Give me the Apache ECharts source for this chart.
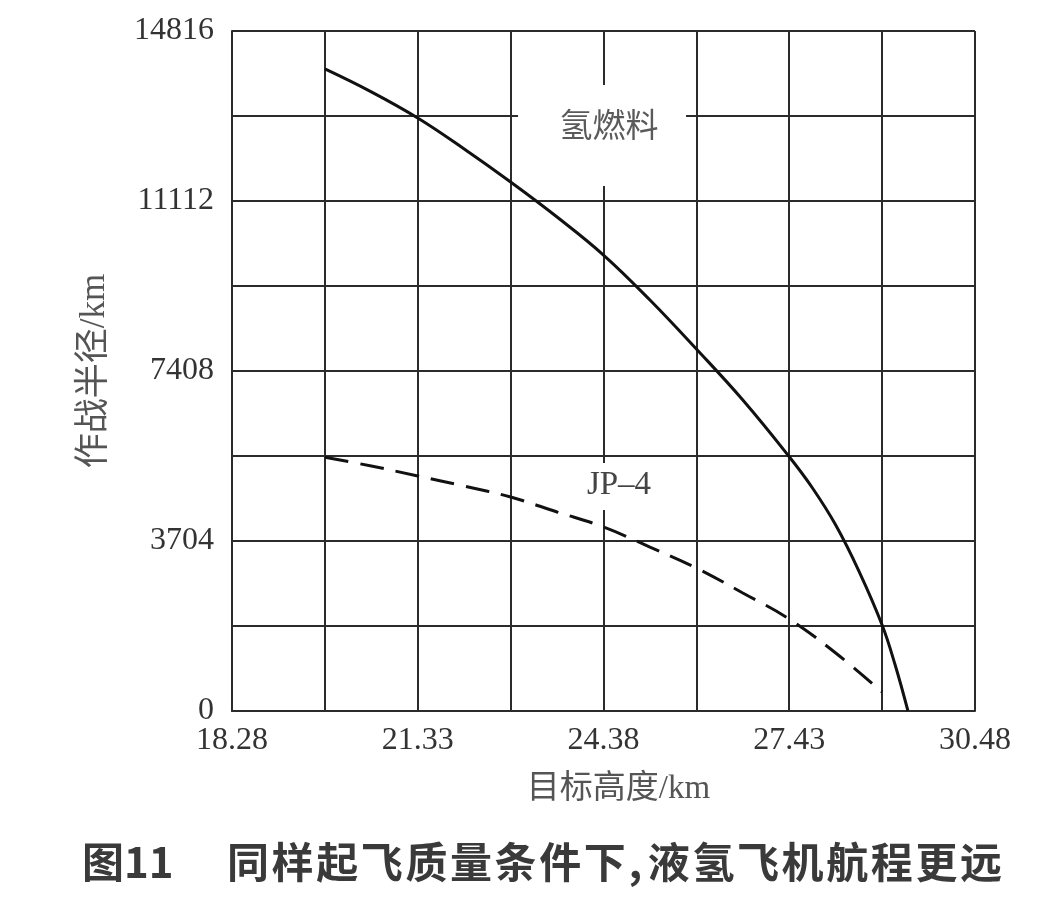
<!DOCTYPE html>
<html>
<head>
<meta charset="utf-8">
<script src="https://cdn.jsdelivr.net/npm/echarts@6/dist/echarts.min.js"></script>
<style>
html,body{margin:0;padding:0;background:#fff;}
#chart{width:1062px;height:900px;}
</style>
</head>
<body>
<div id="chart"></div>
<script>
// X: target altitude (km); Y: combat radius (km)
const xTickLabels = ['18.28', '21.33', '24.38', '27.43', '30.48'];
const yTickLabels = ['0', '3704', '7408', '11112', '14816'];

const h2Altitude = [19.812, 20.574, 21.336, 22.098, 22.86, 23.622, 24.384, 25.146, 25.908, 26.67, 27.432, 27.813, 28.194, 28.575, 28.956, 29.17, 29.38];
const h2Radius   = [13990, 13490, 12920, 12245, 11526, 10763, 9935, 8955, 7887, 6776, 5540, 4859, 4053, 3050, 1874, 1002, 0];

const jpAltitude = [19.812, 20.574, 21.336, 22.098, 22.86, 23.622, 24.384, 25.146, 25.908, 26.67, 27.432, 28.194, 28.956];
const jpRadius   = [5530, 5338, 5120, 4900, 4663, 4336, 4009, 3573, 3116, 2571, 2004, 1264, 414];

// curve labels (placed at the centre of their white label boxes)
const labelNames = ['氢燃料', 'JP\u20134'];
const labelAltitude = [24.36, 24.638];
const labelRadius = [12539, 4891];

const captionLead = '图11';
const captionText = '同样起飞质量条件下,液氢飞机航程更远';

const X_MIN = 18.288, X_MAX = 30.48, X_STEP = 1.524;
const Y_MIN = 0, Y_MAX = 14816, Y_STEP = 1852;

const zip = (a, b) => a.map((v, i) => [v, b[i]]);
const gridLine = { color: '#2b2b2b', width: 2 };
const serifCJK = '"Liberation Serif", "Noto Sans CJK SC", serif';
const captionFont = 'bold 42px "Noto Sans CJK SC"';

// caption characters laid out with a little letter spacing
const captionGraphics = [
  { type: 'text', left: 82, top: 841, style: { text: captionLead, font: captionFont, fill: '#3a3a3a' } }
];
(function () {
  let cx = 227;
  for (const ch of captionText) {
    captionGraphics.push({ type: 'text', left: cx, top: 841, style: { text: ch, font: captionFont, fill: '#3a3a3a' } });
    cx += (ch === ',') ? 19.4 : 44.6;
  }
})();

const chart = echarts.init(document.getElementById('chart'), null, { renderer: 'canvas' });
chart.setOption({
  backgroundColor: '#ffffff',
  animation: false,
  grid: { left: 232, right: 87, top: 31, bottom: 189, containLabel: false },
  xAxis: {
    type: 'value', min: X_MIN, max: X_MAX, interval: X_STEP,
    name: '目标高度/km', nameLocation: 'middle', nameGap: 62,
    nameTextStyle: { fontFamily: serifCJK, fontSize: 33, color: '#555', padding: [0, 0, 0, 30] },
    axisLine: { show: true, lineStyle: gridLine },
    axisTick: { show: false },
    splitLine: { show: true, lineStyle: gridLine },
    axisLabel: {
      fontFamily: '"Liberation Serif", serif', fontSize: 32, color: '#333', margin: 14,
      hideOverlap: false, showMinLabel: true, showMaxLabel: true,
      formatter: function (v) {
        const i = Math.round((v - X_MIN) / X_STEP);
        return i % 2 === 0 ? (xTickLabels[i / 2] || '') : '';
      }
    }
  },
  yAxis: {
    type: 'value', min: Y_MIN, max: Y_MAX, interval: Y_STEP,
    name: '作战半径/km', nameLocation: 'middle', nameGap: 120, nameRotate: 90,
    nameTextStyle: { fontFamily: serifCJK, fontSize: 35, color: '#555' },
    axisLine: { show: true, lineStyle: gridLine },
    axisTick: { show: false },
    splitLine: { show: true, lineStyle: gridLine },
    axisLabel: {
      fontFamily: '"Liberation Serif", serif', fontSize: 32, color: '#333', margin: 18,
      hideOverlap: false, showMinLabel: true, showMaxLabel: true,
      formatter: function (v) {
        const i = Math.round((v - Y_MIN) / Y_STEP);
        return i % 2 === 0 ? (yTickLabels[i / 2] || '') : '';
      }
    }
  },
  series: [
    {
      name: 'labels', type: 'scatter', z: 3, silent: true,
      symbol: 'rect',
      itemStyle: { color: '#ffffff', opacity: 1 },
      data: [
        { value: [labelAltitude[0], labelRadius[0]], name: labelNames[0], symbolSize: [168, 101],
          label: { offset: [7, -7.5], fontFamily: serifCJK, fontSize: 33, color: '#5a5a5a' } },
        { value: [labelAltitude[1], labelRadius[1]], name: labelNames[1], symbolSize: [100, 47],
          label: { offset: [0, -1.5], fontFamily: '"Liberation Serif", serif', fontSize: 33, color: '#444' } }
      ],
      label: { show: true, position: 'inside', formatter: p => p.name }
    },
    {
      name: '氢燃料', type: 'line', data: zip(h2Altitude, h2Radius),
      smooth: 0.4, symbol: 'none', z: 5,
      lineStyle: { color: '#111', width: 3 }
    },
    {
      name: 'JP-4', type: 'line', data: zip(jpAltitude, jpRadius),
      smooth: 0.4, symbol: 'none', z: 5,
      lineStyle: { color: '#111', width: 3, type: [24, 12] }
    }
  ],
  graphic: captionGraphics
});
</script>
</body>
</html>
